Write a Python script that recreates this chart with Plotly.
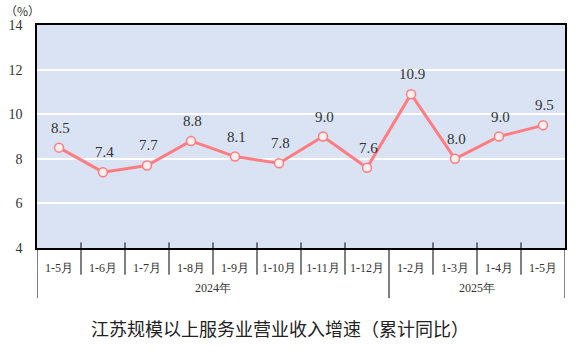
import plotly.graph_objects as go

categories = ["1-5月", "1-6月", "1-7月", "1-8月", "1-9月", "1-10月", "1-11月", "1-12月",
              "1-2月", "1-3月", "1-4月", "1-5月"]
values = [8.5, 7.4, 7.7, 8.8, 8.1, 7.8, 9.0, 7.6, 10.9, 8.0, 9.0, 9.5]
year_labels = ["2024年", "2025年"]
year_spans = [(0, 7), (8, 11)]
y_ticks = [4, 6, 8, 10, 12, 14]
title_text = "江苏规模以上服务业营业收入增速（累计同比）"
unit_text = "（%）"

x = list(range(len(categories)))
serif = "Liberation Serif, Times New Roman, serif"
line_color = "#FF7C80"

fig = go.Figure()
fig.add_trace(go.Scatter(
    x=x, y=values, mode="lines+markers",
    line=dict(color=line_color, width=3),
    marker=dict(size=9, color="#FFF0F0", line=dict(color=line_color, width=1.5)),
    hoverinfo="skip", showlegend=False,
))

annotations = []
for xi, v in zip(x, values):
    annotations.append(dict(
        x=xi, y=v, xref="x", yref="y", text=f"{v:.1f}", showarrow=False,
        yanchor="bottom", yshift=10, xshift=1,
        font=dict(family=serif, size=15, color="#333333"),
    ))

shapes = []
# category separators
for i in range(len(categories) + 1):
    b = i - 0.5
    is_year_edge = b in (-0.5, 7.5, 11.5)
    shapes.append(dict(
        type="line", xref="x", yref="paper", x0=b, x1=b,
        y0=0.025 if not is_year_edge else 0,
        y1=-0.225 if is_year_edge else -0.12,
        line=dict(color="black", width=1),
    ))

for (a, b), lab in zip(year_spans, year_labels):
    annotations.append(dict(
        x=(a + b) / 2, y=-0.18, xref="x", yref="paper", text=lab, showarrow=False,
        yanchor="middle", font=dict(family=serif, size=12, color="#333333"),
    ))

annotations.append(dict(
    x=0.46, y=-0.36, xref="paper", yref="paper", text=title_text, showarrow=False,
    yanchor="middle", font=dict(family="Noto Sans CJK SC", size=18, color="#222222"),
))
annotations.append(dict(
    x=-0.065, y=1.065, xref="paper", yref="paper", text=unit_text, showarrow=False,
    xanchor="left", yanchor="middle", font=dict(family="Noto Sans CJK SC", size=12, color="#333333"),
))

fig.update_layout(
    width=585, height=359,
    margin=dict(l=37, r=20, t=25, b=111),
    paper_bgcolor="white", plot_bgcolor="#DAE3F3",
    xaxis=dict(
        range=[-0.5, len(categories) - 0.5], tickvals=x, ticktext=categories,
        showgrid=False, zeroline=False, showline=True, linecolor="black", linewidth=1.5,
        mirror=True, ticks="", ticklabelstandoff=8, automargin=False,
        tickfont=dict(family=serif, size=12, color="#333333"),
    ),
    yaxis=dict(
        range=[4, 14], tickvals=y_ticks, showgrid=True, gridcolor="white", gridwidth=1.5,
        zeroline=False, showline=True, linecolor="black", linewidth=1.5, mirror=True,
        ticks="", ticklabelstandoff=10, automargin=False,
        tickfont=dict(family=serif, size=14, color="#333333"),
    ),
    shapes=shapes, annotations=annotations,
)

fig.write_html("out.html", config={"displayModeBar": False},
               post_script="document.body.style.margin='0';")
